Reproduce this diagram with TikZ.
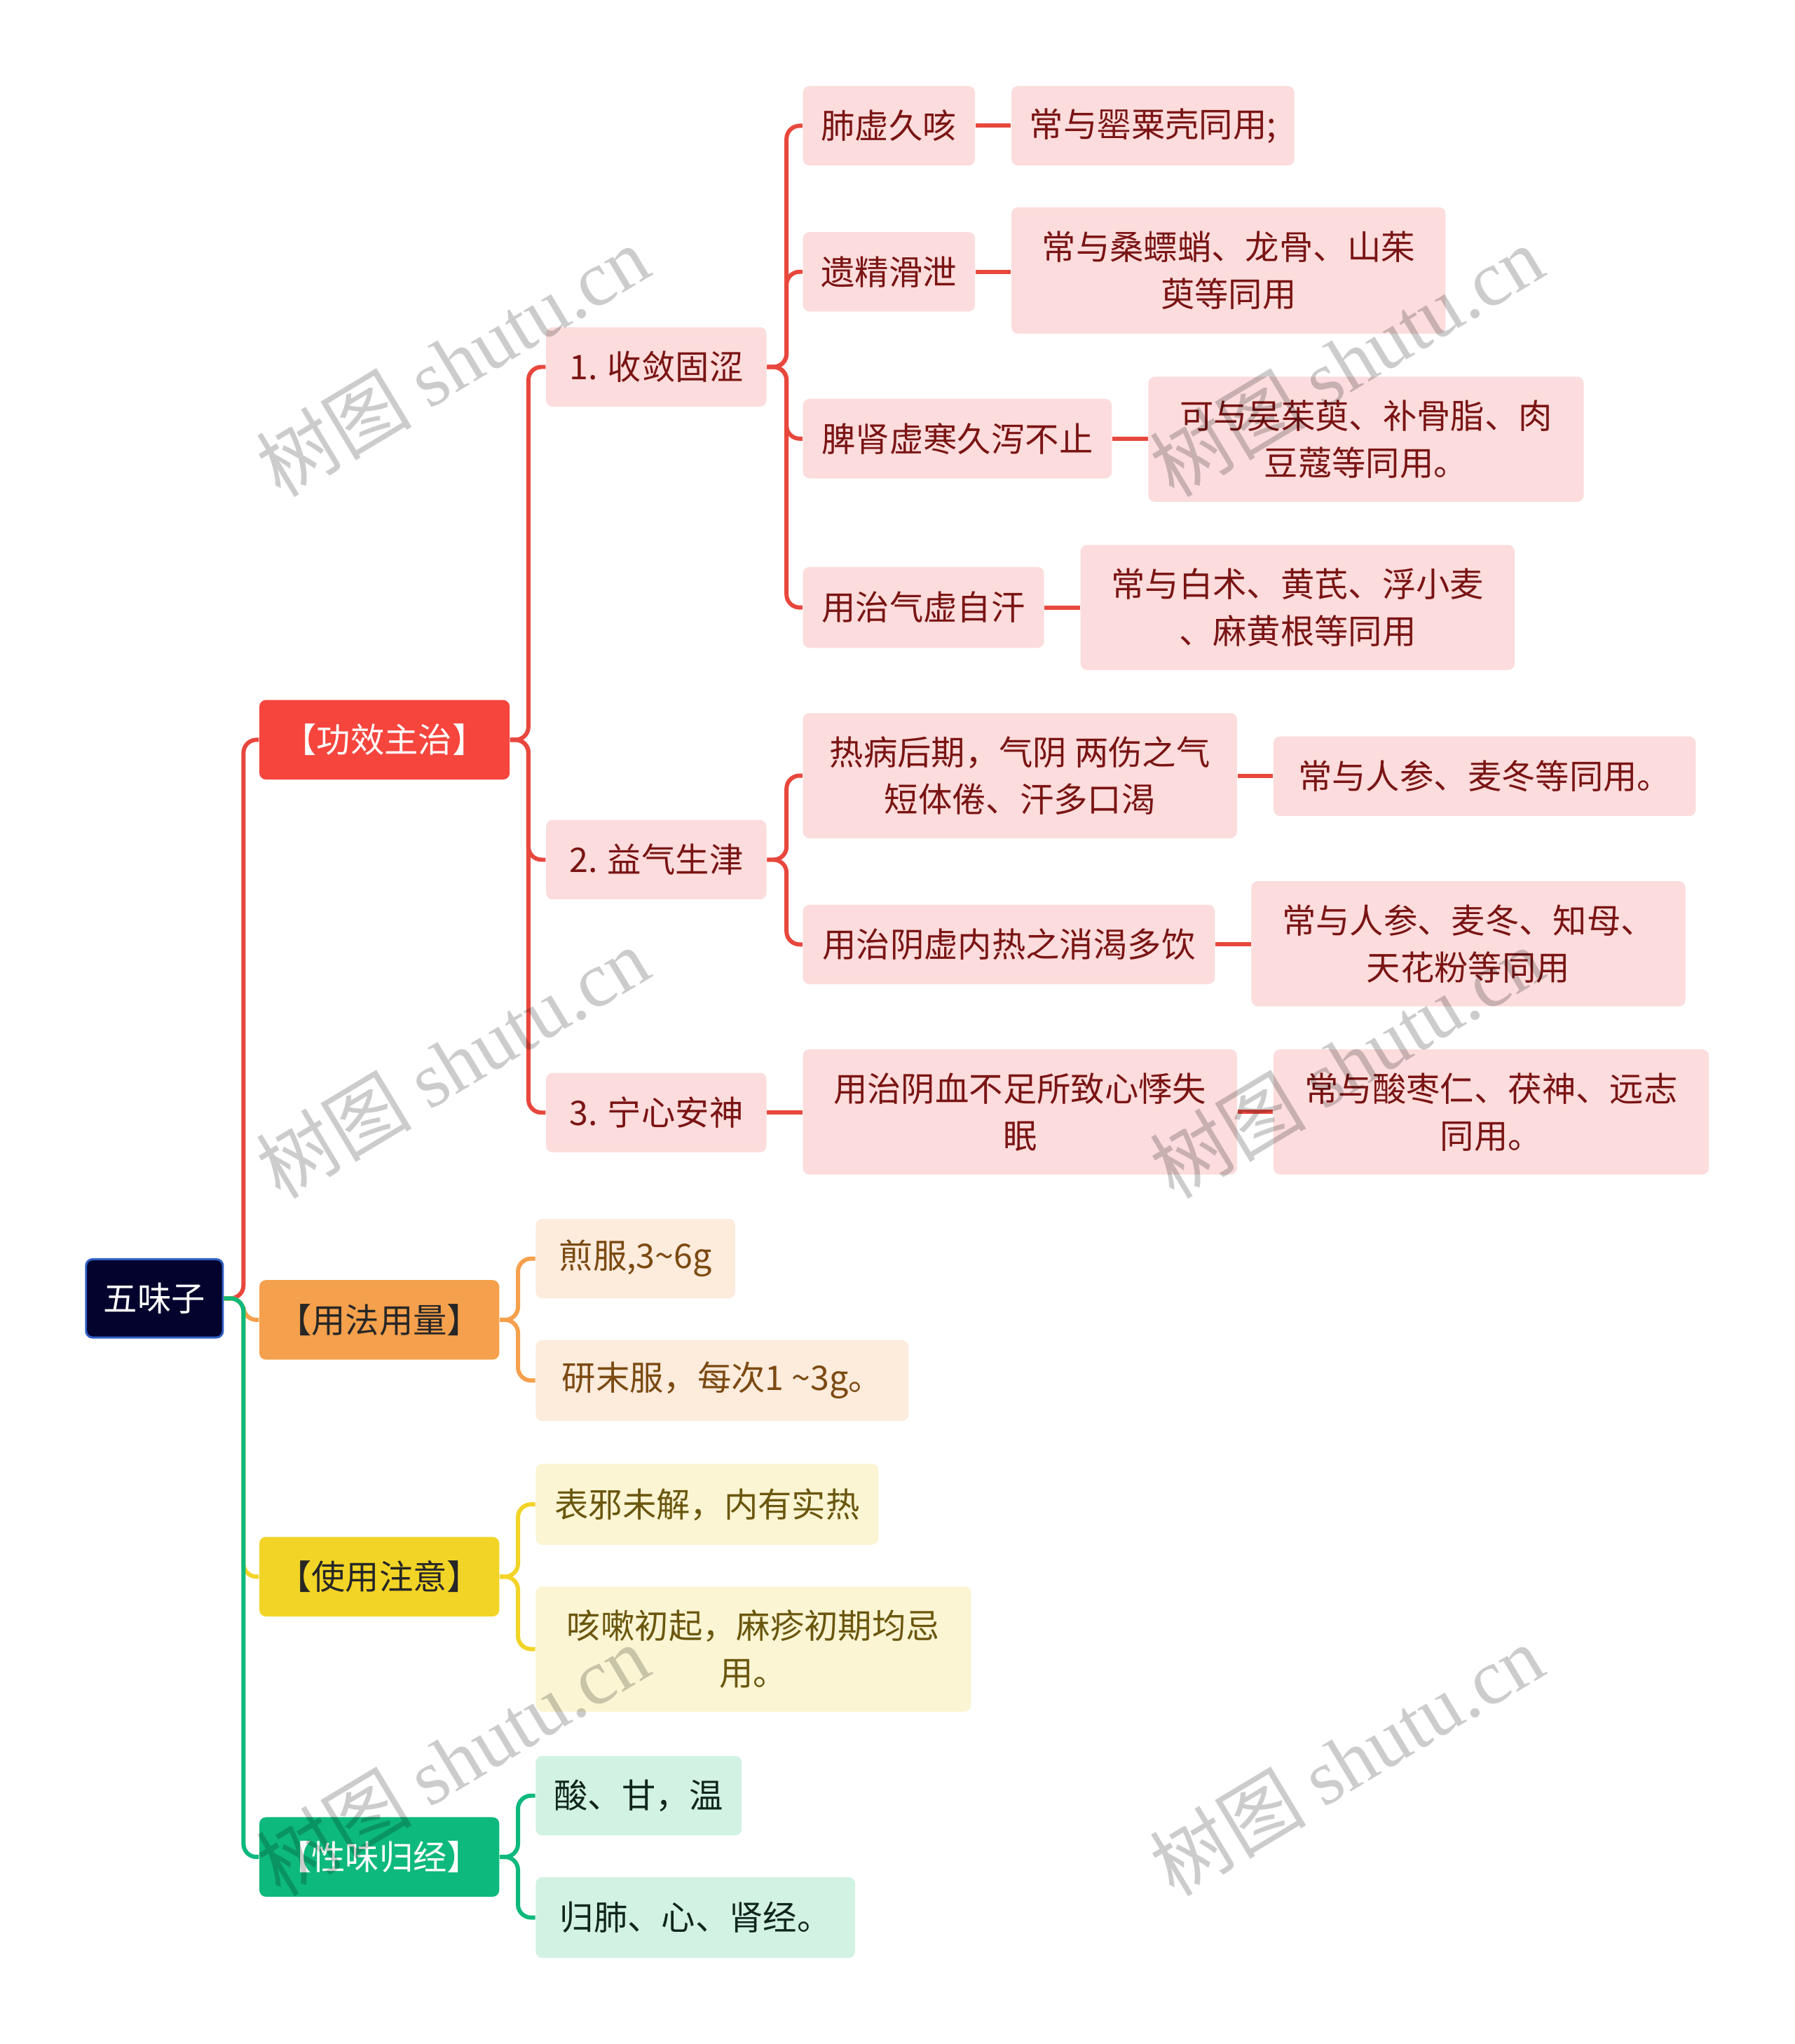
\documentclass[tikz,border=0pt]{standalone}
\usepackage{fontspec}
\setmainfont{Noto Sans CJK SC}
\newfontfamily\wmserif{Liberation Serif}
\definecolor{navy}{HTML}{03032E}
\definecolor{navyb}{HTML}{2F5FC4}
\definecolor{redF}{HTML}{F5453D}
\definecolor{redL}{HTML}{E8473D}
\definecolor{pinkF}{HTML}{FCDCDC}
\definecolor{redT}{HTML}{7A1414}
\definecolor{orgF}{HTML}{F5A04C}
\definecolor{peachF}{HTML}{FDEBDC}
\definecolor{brownT}{HTML}{7B4A12}
\definecolor{yelF}{HTML}{F2D426}
\definecolor{creamF}{HTML}{FBF5D3}
\definecolor{oliveT}{HTML}{6A560E}
\definecolor{grnF}{HTML}{0DB97C}
\definecolor{mintF}{HTML}{D2F2E3}
\definecolor{grnT}{HTML}{10261C}
\begin{document}
\begin{tikzpicture}[x=0.5pt,y=-0.5pt,
  box/.style={rounded corners=2.5pt, inner sep=0pt, align=center, font=\fontsize{13}{18}\selectfont},
  rootbox/.style={box, fill=navy, draw=navyb, line width=0.8pt, text=white},
  redbox/.style={box, fill=redF, text=white},
  orgbox/.style={box, fill=orgF, text=black!85},
  yelbox/.style={box, fill=yelF, text=black!85},
  grnbox/.style={box, fill=grnF, text=white},
  pk/.style={box, fill=pinkF, text=redT},
  pe/.style={box, fill=peachF, text=brownT},
  cr/.style={box, fill=creamF, text=oliveT},
  mt/.style={box, fill=mintF, text=grnT},
  conn/.style={line width=1.6pt, rounded corners=5pt},
  wm/.style={rotate=31, text=black, text opacity=0.2, font=\fontsize{30}{30}\selectfont, inner sep=0pt}
]
\fill[white] (0,0) rectangle (1377,1568);
\useasboundingbox (0,0) rectangle (1377,1568);

% root and level 1
\node[rootbox, minimum width=52.5pt, minimum height=30pt] (root) at (118.5,996) {五味子};
\node[redbox, minimum width=96pt, minimum height=30.5pt] (gx) at (295,567.5) {【功效主治】};
\node[orgbox, minimum width=92pt, minimum height=30.5pt] (yf) at (291,1012.5) {【用法用量】};
\node[yelbox, minimum width=92pt, minimum height=30.5pt] (sy) at (291,1209.5) {【使用注意】};
\node[grnbox, minimum width=92pt, minimum height=30.5pt] (xw) at (291,1424.5) {【性味归经】};

% level 2 under gx
\node[pk, minimum width=84.5pt, minimum height=30.5pt] (s1) at (503.5,281.5) {1. 收敛固涩};
\node[pk, minimum width=84.5pt, minimum height=30.5pt] (s2) at (503.5,659.5) {2. 益气生津};
\node[pk, minimum width=84.5pt, minimum height=30.5pt] (s3) at (503.5,853.5) {3. 宁心安神};

% level 3 / 4
\node[pk, minimum width=66pt, minimum height=30.5pt] (a1) at (682,96.5) {肺虚久咳};
\node[pk, minimum width=108.5pt, minimum height=30.5pt] (a1r) at (884.5,96.5) {常与罂粟壳同用;};
\node[pk, minimum width=66pt, minimum height=30.5pt] (a2) at (682,208.5) {遗精滑泄};
\node[pk, minimum width=166.5pt, minimum height=48.5pt] (a2r) at (942.5,207.5) {常与桑螵蛸、龙骨、山茱\\萸等同用};
\node[pk, minimum width=118.5pt, minimum height=30.5pt] (a3) at (734.5,336.5) {脾肾虚寒久泻不止};
\node[pk, minimum width=167pt, minimum height=48pt] (a3r) at (1048,337) {可与吴茱萸、补骨脂、肉\\豆蔻等同用。};
\node[pk, minimum width=92.5pt, minimum height=31pt] (a4) at (708.5,466) {用治气虚自汗};
\node[pk, minimum width=166.5pt, minimum height=48pt] (a4r) at (995.5,466) {常与白术、黄芪、浮小麦\\、麻黄根等同用};

\node[pk, minimum width=166.5pt, minimum height=48pt] (b1) at (782.5,595) {热病后期，气阴 两伤之气\\短体倦、汗多口渴};
\node[pk, minimum width=162pt, minimum height=30.5pt] (b1r) at (1139,595.5) {常与人参、麦冬等同用。};
\node[pk, minimum width=158pt, minimum height=30.5pt] (b2) at (774,724.5) {用治阴虚内热之消渴多饮};
\node[pk, minimum width=166.5pt, minimum height=48pt] (b2r) at (1126.5,724) {常与人参、麦冬、知母、\\天花粉等同用};

\node[pk, minimum width=166.5pt, minimum height=48pt] (c1) at (782.5,853) {用治阴血不足所致心悸失\\眠};
\node[pk, minimum width=167pt, minimum height=48pt] (c1r) at (1144,853) {常与酸枣仁、茯神、远志\\同用。};

% orange children
\node[pe, minimum width=76.5pt, minimum height=30.5pt] (d1) at (487.5,965.5) {煎服,3\textasciitilde6g};
\node[pe, minimum width=143pt, minimum height=31pt] (d2) at (554,1059) {研末服，每次1 \textasciitilde3g。};
% yellow children
\node[cr, minimum width=131.5pt, minimum height=31pt] (e1) at (542.5,1154) {表邪未解，内有实热};
\node[cr, minimum width=167pt, minimum height=48pt] (e2) at (578,1265) {咳嗽初起，麻疹初期均忌\\用。};
% green children
\node[mt, minimum width=79pt, minimum height=30.5pt] (f1) at (490,1377.5) {酸、甘，温};
\node[mt, minimum width=122.5pt, minimum height=31pt] (f2) at (533.5,1471) {归肺、心、肾经。};

% connectors from root
\draw[conn, redL] (root.east) -- ++(7.5pt,0) |- (gx.west);
\draw[conn, orgF] (root.east) -- ++(7.5pt,0) |- (yf.west);
\draw[conn, yelF] (root.east) -- ++(7.5pt,0) |- (sy.west);
\draw[conn, grnF] (root.east) -- ++(7.5pt,0) |- (xw.west);

% red subtree
\draw[conn, redL] (gx.east) -- ++(7pt,0) |- (s1.west);
\draw[conn, redL] (gx.east) -- ++(7pt,0) |- (s2.west);
\draw[conn, redL] (gx.east) -- ++(7pt,0) |- (s3.west);
\draw[conn, redL] (s1.east) -- ++(7.5pt,0) |- (a1.west);
\draw[conn, redL] (s1.east) -- ++(7.5pt,0) |- (a2.west);
\draw[conn, redL] (s1.east) -- ++(7.5pt,0) |- (a3.west);
\draw[conn, redL] (s1.east) -- ++(7.5pt,0) |- (a4.west);
\draw[conn, redL] (s2.east) -- ++(7.5pt,0) |- (b1.west);
\draw[conn, redL] (s2.east) -- ++(7.5pt,0) |- (b2.west);
\draw[conn, redL] (s3.east) -- (s3.east -| c1.west);
\draw[conn, redL] (a1.east) -- (a1.east -| a1r.west);
\draw[conn, redL] (a2.east) -- (a2.east -| a2r.west);
\draw[conn, redL] (a3.east) -- (a3.east -| a3r.west);
\draw[conn, redL] (a4.east) -- (a4.east -| a4r.west);
\draw[conn, redL] (b1.east) -- (b1.east -| b1r.west);
\draw[conn, redL] (b2.east) -- (b2.east -| b2r.west);
\draw[conn, redL] (c1.east) -- (c1.east -| c1r.west);

% other subtrees
\draw[conn, orgF] (yf.east) -- ++(7pt,0) |- (d1.west);
\draw[conn, orgF] (yf.east) -- ++(7pt,0) |- (d2.west);
\draw[conn, yelF] (sy.east) -- ++(7pt,0) |- (e1.west);
\draw[conn, yelF] (sy.east) -- ++(7pt,0) |- (e2.west);
\draw[conn, grnF] (xw.east) -- ++(7pt,0) |- (f1.west);
\draw[conn, grnF] (xw.east) -- ++(7pt,0) |- (f2.west);

% watermarks
\node[wm] (w1) at (347,277) {树图 {\wmserif shutu.cn}};
\node[wm] (w2) at (347,815) {树图 {\wmserif shutu.cn}};
\node[wm] (w3) at (347,1350) {树图 {\wmserif shutu.cn}};
\node[wm] (w4) at (1033,277) {树图 {\wmserif shutu.cn}};
\node[wm] (w5) at (1033,815) {树图 {\wmserif shutu.cn}};
\node[wm] (w6) at (1033,1350) {树图 {\wmserif shutu.cn}};
\end{tikzpicture}
\end{document}
